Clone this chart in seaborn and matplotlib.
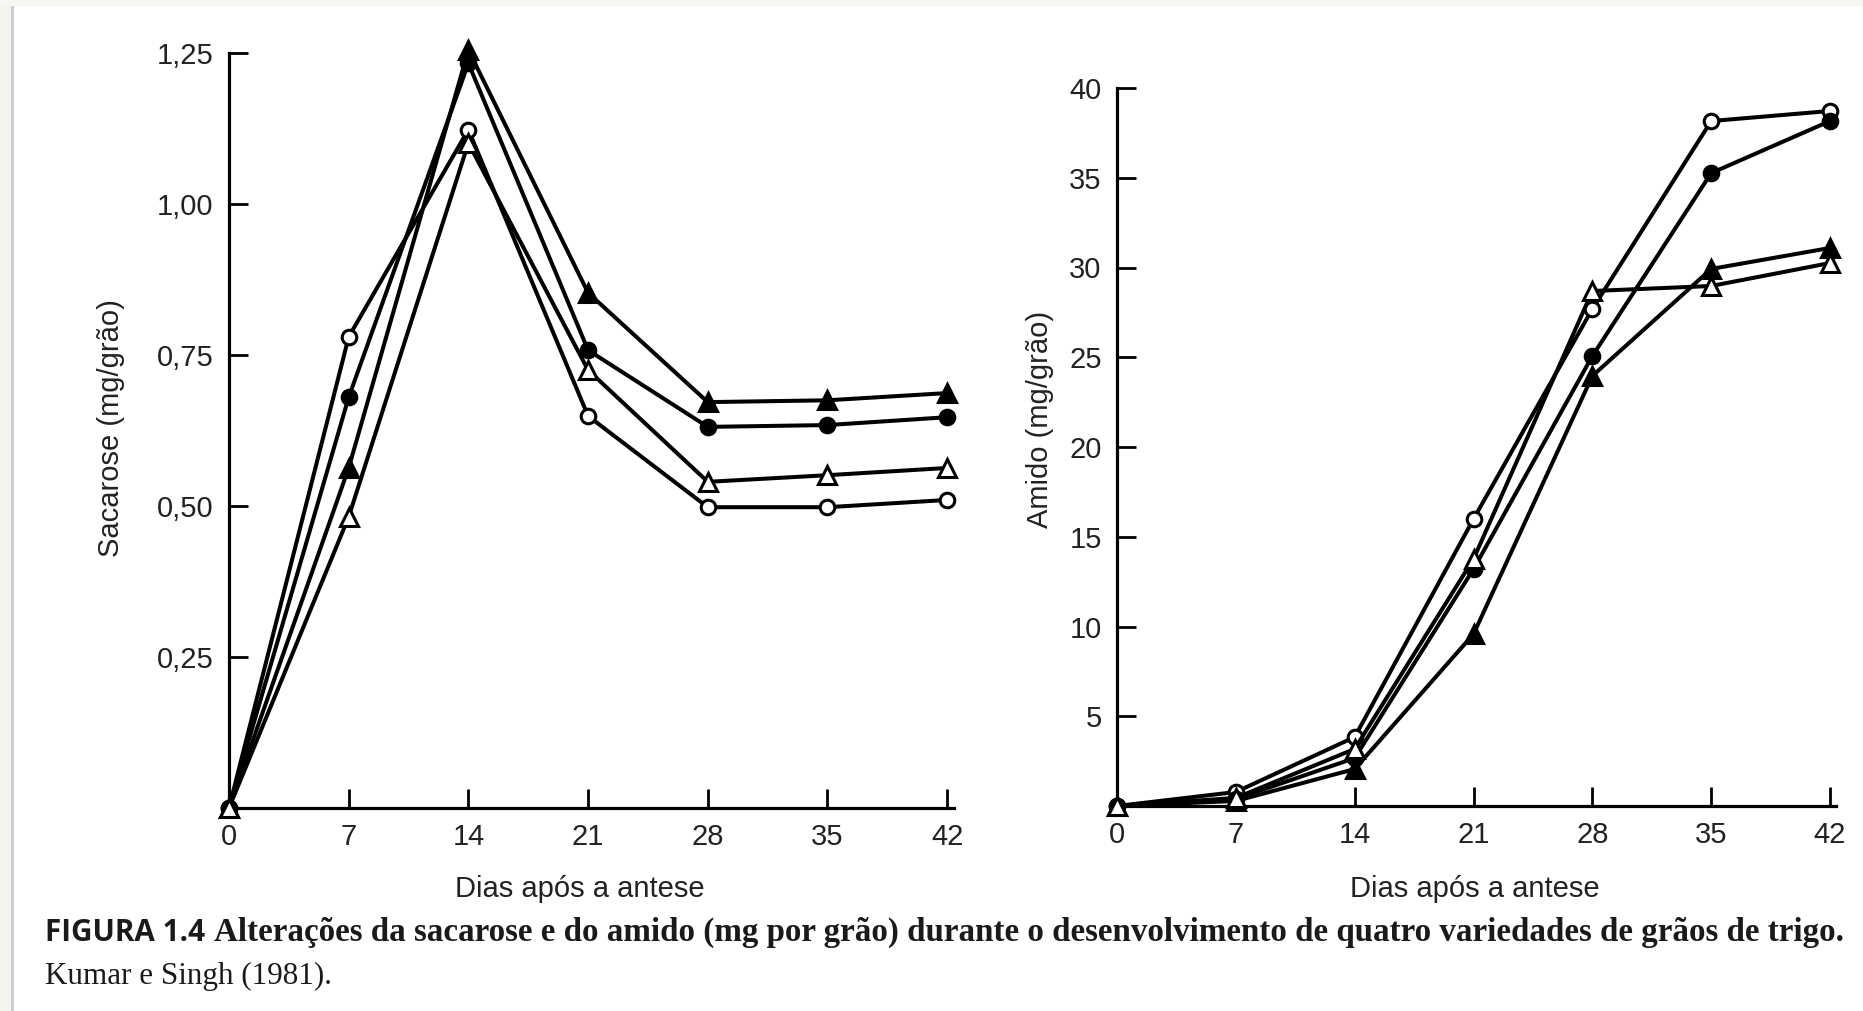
import matplotlib
matplotlib.use("Agg")
import matplotlib.pyplot as plt
from matplotlib.patches import Rectangle
import seaborn as sns
import pandas as pd

# ---------------- data ----------------
days = [0, 7, 14, 21, 28, 35, 42]

# Sacarose (mg/grão)
sac_open_circle = [0.0, 0.780, 1.123, 0.649, 0.498, 0.498, 0.510]
sac_filled_circle = [0.0, 0.680, 1.233, 0.758, 0.631, 0.634, 0.647]
sac_filled_triangle = [0.0, 0.563, 1.255, 0.853, 0.672, 0.675, 0.687]
sac_open_triangle = [0.0, 0.482, 1.101, 0.725, 0.540, 0.551, 0.563]

# Amido (mg/grão)
ami_open_circle = [0.0, 0.78, 3.84, 15.99, 27.69, 38.16, 38.72]
ami_filled_circle = [0.0, 0.39, 2.67, 13.20, 25.07, 35.26, 38.16]
ami_filled_triangle = [0.0, 0.28, 2.06, 9.58, 23.96, 29.92, 31.09]
ami_open_triangle = [0.0, 0.45, 3.18, 13.76, 28.69, 28.97, 30.25]

x_ticks = [0, 7, 14, 21, 28, 35, 42]
x_ticklabels = ["0", "7", "14", "21", "28", "35", "42"]
sac_yticks = [0.25, 0.50, 0.75, 1.00, 1.25]
sac_yticklabels = ["0,25", "0,50", "0,75", "1,00", "1,25"]
ami_yticks = [5, 10, 15, 20, 25, 30, 35, 40]
ami_yticklabels = ["5", "10", "15", "20", "25", "30", "35", "40"]

xlabel = "Dias após a antese"
sac_ylabel = "Sacarose (mg/grão)"
ami_ylabel = "Amido (mg/grão)"
caption_bold = "FIGURA 1.4"
caption_rest = ("Alterações da sacarose e do amido (mg por grão) durante o desenvolvimento "
                "de quatro variedades de grãos de trigo.")
caption_line2 = "Kumar e Singh (1981)."

# ---------------- style ----------------
sns.set_style("ticks")
plt.rcParams["font.family"] = ["Liberation Sans", "DejaVu Sans"]

W, H = 1863, 1011
fig = plt.figure(figsize=(W / 100, H / 100), dpi=100)
fig.patch.set_facecolor("white")

# page border artefacts
fig.patches.append(Rectangle((0, 0), 11 / W, 1, transform=fig.transFigure,
                             facecolor="#f4f4ef", edgecolor="none", zorder=0))
fig.patches.append(Rectangle((0, 1 - 6 / H), 1, 6 / H, transform=fig.transFigure,
                             facecolor="#f6f6f2", edgecolor="none", zorder=0))
fig.patches.append(Rectangle((11 / W, 0), 2.5 / W, 1 - 6 / H, transform=fig.transFigure,
                             facecolor="#cfcfcf", edgecolor="none", zorder=1))


def px_axes(left, right, top, bottom):
    return fig.add_axes([left / W, (H - bottom) / H, (right - left) / W, (bottom - top) / H])


ax1 = px_axes(229, 954, 53, 808)
ax2 = px_axes(1117, 1836, 88, 806)

TXT = "#222222"
series_style = [
    dict(marker="o", markersize=10.5, markerfacecolor="white"),
    dict(marker="o", markersize=10.5, markerfacecolor="black"),
    dict(marker="^", markersize=12.5, markerfacecolor="black"),
    dict(marker="^", markersize=12.5, markerfacecolor="white"),
]


def draw(ax, series, yticks, yticklabels, ylabel, ylim, xlim, ylab_xy, xlab_xy):
    for vals, st in zip(series, series_style):
        df = pd.DataFrame({"dia": days, "v": vals})
        sns.lineplot(data=df, x="dia", y="v", ax=ax, color="black", linewidth=2.9,
                     markeredgecolor="black", markeredgewidth=2.2, clip_on=False,
                     zorder=3, **st)
    ax.set_xlim(*xlim)
    ax.set_ylim(*ylim)
    ax.set_xticks(x_ticks)
    ax.set_xticklabels(x_ticklabels)
    ax.set_yticks(yticks)
    ax.set_yticklabels(yticklabels)
    for s in ["top", "right"]:
        ax.spines[s].set_visible(False)
    for s in ["left", "bottom"]:
        ax.spines[s].set_linewidth(2.3)
        ax.spines[s].set_color("black")
    ax.tick_params(axis="both", direction="in", length=14, width=2.0, color="black",
                   labelsize=21, labelcolor=TXT)
    ax.tick_params(axis="x", pad=11)
    ax.tick_params(axis="y", pad=11)
    ax.set_xlabel(xlabel, fontsize=21, color=TXT)
    ax.set_ylabel(ylabel, fontsize=21, color=TXT)
    ax.yaxis.set_label_coords(*ylab_xy)
    ax.xaxis.set_label_coords(*xlab_xy)
    ax.xaxis.label.set_va("top")
    ax.set_facecolor("none")


draw(ax1, [sac_open_circle, sac_filled_circle, sac_filled_triangle, sac_open_triangle],
     sac_yticks, sac_yticklabels, sac_ylabel, (0, 1.25), (0, 42.4),
     (-0.143, 0.503), (0.484, -0.089))
draw(ax2, [ami_open_circle, ami_filled_circle, ami_filled_triangle, ami_open_triangle],
     ami_yticks, ami_yticklabels, ami_ylabel, (0, 40), (0, 42.35),
     (-0.088, 0.538), (0.498, -0.096))

# ---------------- caption ----------------
CAP = "#1a1a1a"
x0 = 45
base1 = 941
base2 = 984
bold_w_target = 160
line_end_target = 1842
line2_w_target = 288
serif = ["Liberation Serif", "DejaVu Serif"]

t1 = fig.text(x0 / W, 1 - base1 / H, caption_bold, fontsize=19, fontweight="bold",
              family=["Open Sans", "DejaVu Sans"], color=CAP, va="baseline", ha="left")
l2 = fig.text(x0 / W, 1 - base2 / H, caption_line2, fontsize=20,
              family=serif, color=CAP, va="baseline", ha="left")
fig.canvas.draw()
t1.set_fontsize(19 * bold_w_target / t1.get_window_extent().width)
l2.set_fontsize(20 * line2_w_target / l2.get_window_extent().width)
fig.canvas.draw()
x_rest = t1.get_window_extent().x1 + 9

t2 = fig.text(x_rest / W, 1 - base1 / H, caption_rest, fontsize=20, fontweight="bold",
              family=serif, color=CAP, va="baseline", ha="left")
fig.canvas.draw()
t2.set_fontsize(20 * (line_end_target - x_rest) / t2.get_window_extent().width)

fig.savefig("out.png", dpi=100, facecolor="white")
